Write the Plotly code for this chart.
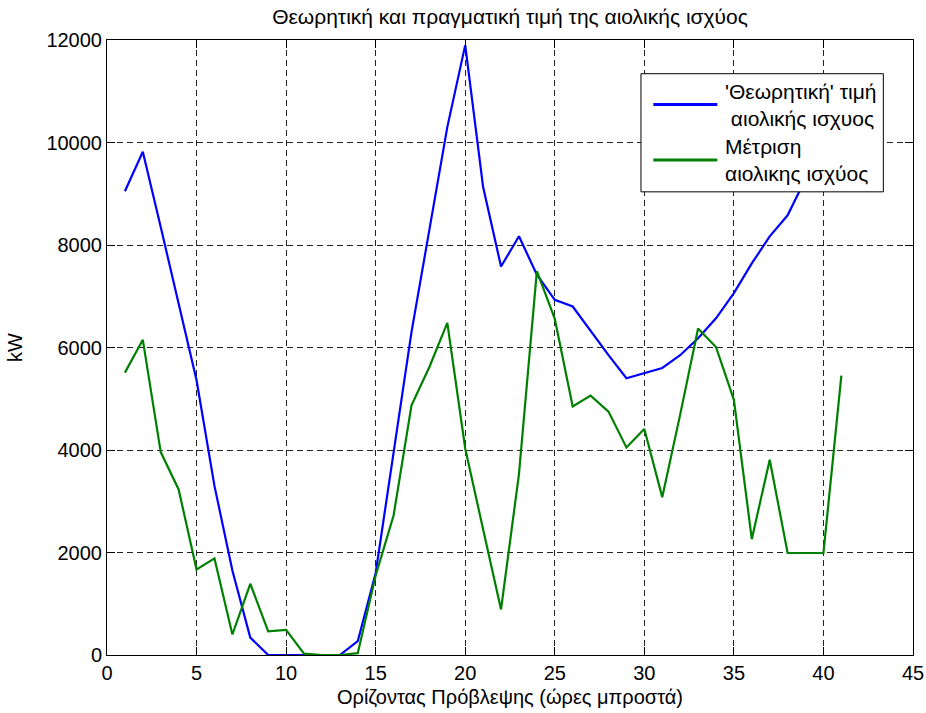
import plotly.graph_objects as go

hours = list(range(1, 42))

theoretical_kw = [9050, 9820, 8350, 6880, 5360, 3300, 1650, 340, 0, 0,
                  0, 0, 0, 270, 1600, 3950, 6300, 8300, 10300, 11900,
                  9130, 7580, 8170, 7420, 6930, 6800, 6320, 5850, 5400, 5500,
                  5600, 5850, 6180, 6570, 7060, 7640, 8170, 8580, 9300, 10000,
                  10700]

measured_kw = [5510, 6150, 3960, 3230, 1670, 1885, 400, 1390, 460, 490,
               25, 0, 0, 35, 1550, 2720, 4870, 5620, 6480, 4030,
               2450, 890, 3530, 7490, 6560, 4850, 5060, 4750, 4050, 4410,
               3080, 4690, 6370, 6010, 4980, 2260, 3810, 1990, 1990, 1990,
               5450]

series_names = ["'Θεωρητική' τιμή<br>\u00a0αιολικής ισχυος", "Μέτριση<br>αιολικης ισχύος"]
series_colors = ["rgb(0,0,255)", "rgb(0,128,0)"]
title_text = "Θεωρητική και πραγματική τιμή της αιολικής ισχύος"
x_title = "Ορίζοντας Πρόβλεψης (ώρες μπροστά)"
y_title = "kW"

FONT = "Liberation Sans, Arial, sans-serif"

fig = go.Figure()
for yvals, name, color in zip([theoretical_kw, measured_kw], series_names, series_colors):
    fig.add_trace(go.Scatter(x=hours, y=yvals, mode="lines", name=name,
                             line=dict(color=color, width=2.2), showlegend=False))

axis_common = dict(
    showline=True, linecolor="black", linewidth=1, mirror="ticks",
    ticks="inside", ticklen=8, tickcolor="black", tickwidth=1,
    showgrid=True, gridcolor="#222", gridwidth=1, griddash="6px,4px",
    zeroline=False, automargin=False,
    tickfont=dict(family=FONT, size=20, color="black"),
)

fig.update_xaxes(range=[0, 45], dtick=5, tick0=0,
                 title=dict(text=x_title, font=dict(family=FONT, size=20, color="black"), standoff=6),
                 **axis_common)
fig.update_yaxes(range=[0, 12000], dtick=2000, tick0=0, tickformat="d",
                 title=dict(text=y_title, font=dict(family=FONT, size=20, color="black"), standoff=18),
                 **axis_common)

# Legend box (MATLAB-style, long line samples)
box = dict(x0=0.6625, x1=0.9632, y0=0.7531, y1=0.9452)
fig.add_shape(type="rect", xref="paper", yref="paper", layer="above",
              line=dict(color="black", width=1), fillcolor="white", **box)
legend_rows_y = [0.8950, 0.8047]
for name, color, ly in zip(series_names, series_colors, legend_rows_y):
    fig.add_shape(type="line", xref="paper", yref="paper", layer="above",
                  x0=0.6778, x1=0.7572, y0=ly, y1=ly, line=dict(color=color, width=3))
    fig.add_annotation(x=0.7640, y=ly, xref="paper", yref="paper", text=name,
                       showarrow=False, xanchor="left", yanchor="middle", align="left",
                       font=dict(family=FONT, size=21, color="black"))

fig.update_layout(
    width=926, height=713,
    margin=dict(l=107, r=13, t=40, b=58, pad=0),
    paper_bgcolor="white", plot_bgcolor="white",
    title=dict(text=title_text, x=0.5, xref="paper", xanchor="center", y=0.976, yanchor="middle",
               font=dict(family=FONT, size=21, color="black")),
    font=dict(family=FONT, size=20, color="black"),
    showlegend=False,
)

fig.write_html("out.html")
